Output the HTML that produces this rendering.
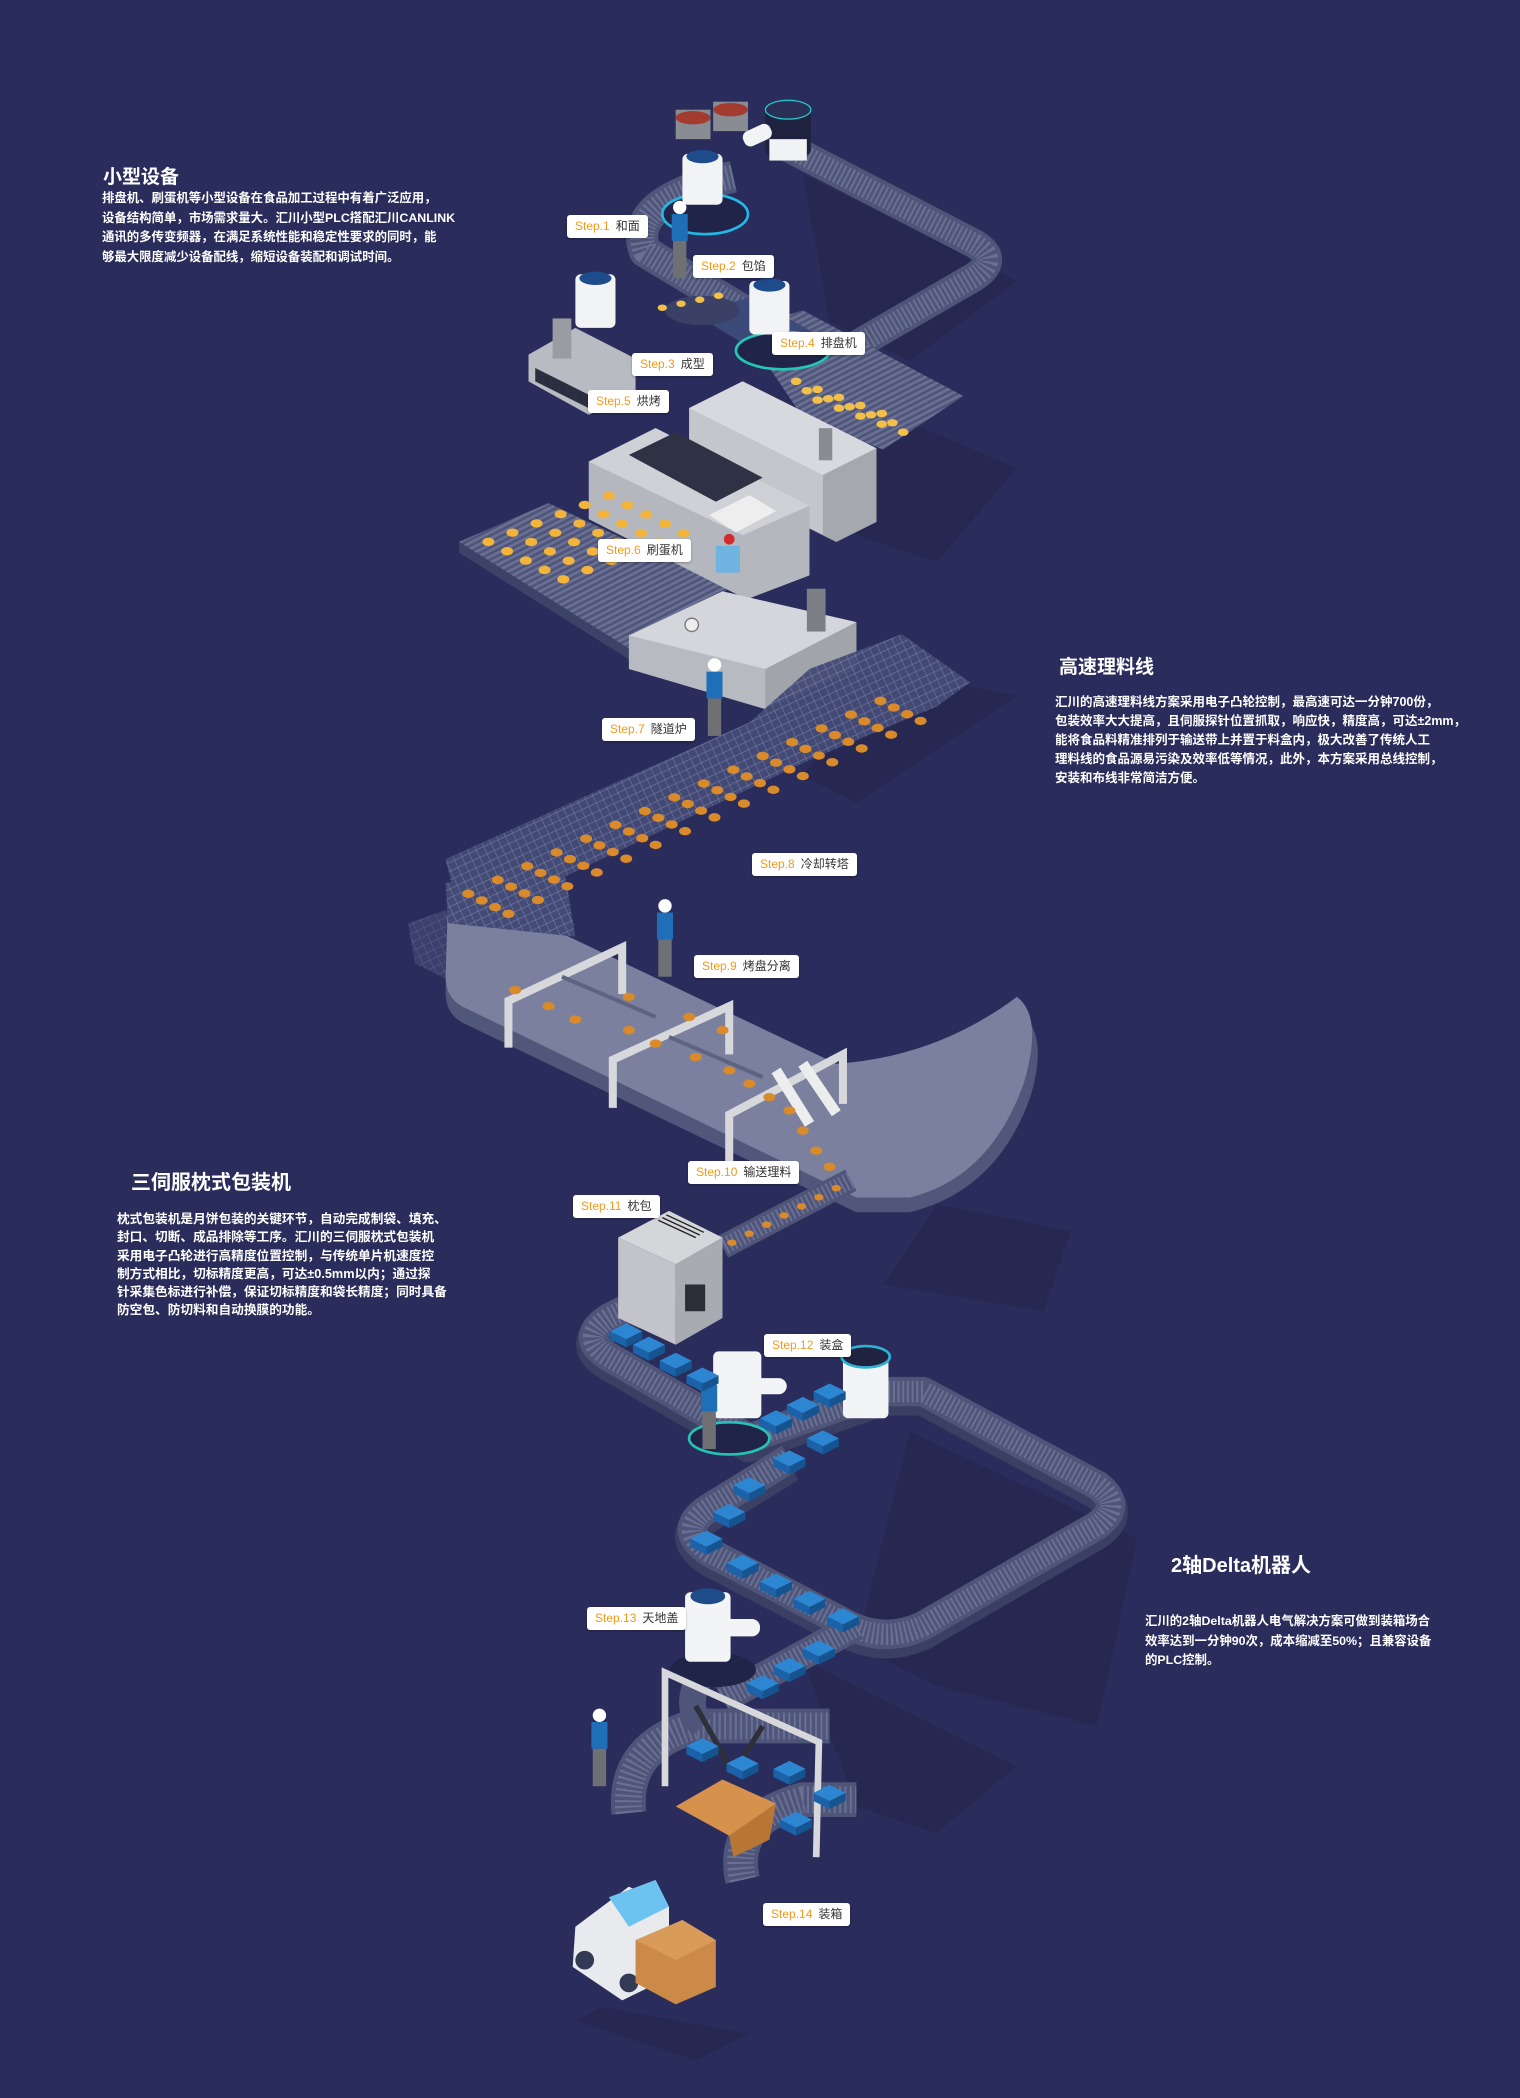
<!DOCTYPE html>
<html><head><meta charset="utf-8">
<style>
html,body{margin:0;padding:0;}
body{width:1520px;height:2098px;background:#2a2c5b;position:relative;overflow:hidden;font-family:"Liberation Sans","Noto Sans CJK SC",sans-serif;color:#fff;}
svg{position:absolute;left:0;top:0;}
.t{position:absolute;font-weight:bold;white-space:nowrap;}
.h{font-size:19px;}
.b{font-size:12.4px;}
.step{position:absolute;background:#fff;border-radius:3px;height:23px;line-height:23px;font-size:12px;color:#333;padding:0 8px;white-space:nowrap;box-shadow:0 1px 2px rgba(0,0,0,.3);font-family:"Liberation Sans","Noto Sans CJK SC",sans-serif;}
.step span{color:#f39a1c;margin-right:6px;}
</style></head><body>
<svg width="1520" height="2098" viewBox="0 0 1136 1568">
<defs>
<pattern id="mesh" width="6" height="6" patternUnits="userSpaceOnUse" patternTransform="rotate(-25)">
<rect width="6" height="6" fill="#444b76"/><path d="M0 0H6M0 0V6" stroke="#7980a4" stroke-width="0.8"/></pattern>
<pattern id="slat" width="4" height="4" patternUnits="userSpaceOnUse" patternTransform="rotate(63)">
<rect width="4" height="4" fill="#4f5578"/><rect width="2" height="4" fill="#6a7094"/></pattern>
<g id="pp">
<circle cx="0" cy="0" r="5" fill="#fff"/><rect x="-6" y="5" width="12" height="20" fill="#1e6fb8"/><rect x="-5" y="25" width="10" height="28" fill="#6e7074"/>
</g>
</defs>
<!-- shadows -->
<g fill="#25274f" opacity="0.7">
<path d="M600 130 L760 210 L680 270 L620 240Z"/>
<path d="M620 290 L760 350 L700 420 L640 400Z"/>
<path d="M660 500 L760 520 L640 600 L600 580Z"/>
<path d="M700 900 L800 920 L780 980 L660 960Z"/>
<path d="M680 1070 L850 1150 L820 1290 L700 1260 L640 1230Z"/>
<path d="M600 1240 L760 1320 L700 1370 L640 1350Z"/>
<path d="M450 1500 L560 1520 L520 1540 L430 1510Z"/>
</g>
<g fill="none" stroke-linejoin="round" stroke-linecap="butt">
<path d="M585 108 L728 182 Q748 194 728 207 L640 258" stroke="#4f5578" stroke-width="22"/>
<path d="M585 108 L728 182 Q748 194 728 207 L640 258" stroke="#6a7094" stroke-width="16" stroke-dasharray="1.5 2"/>
<path d="M548 132 Q468 150 482 188 L565 238" stroke="#4f5578" stroke-width="24"/>
<path d="M548 132 Q468 150 482 188 L565 238" stroke="#6a7094" stroke-width="18" stroke-dasharray="1.5 2"/>
</g>
<polygon points="555,245 600,232 720,296 660,336 600,312" fill="url(#slat)"/>
<polygon points="520,235 560,222 620,255 580,272" fill="#3b4a78"/>
<ellipse cx="527" cy="160" rx="32" ry="15" fill="#1f2448" stroke="#23b7e6" stroke-width="2"/>
<ellipse cx="585" cy="262" rx="35" ry="14" fill="#1f2448" stroke="#23c7b5" stroke-width="2"/>
<ellipse cx="525" cy="232" rx="28" ry="11" fill="#3a4066"/>
<g>
<rect x="505" y="82" width="26" height="22" fill="#8a8c93"/><ellipse cx="518" cy="88" rx="13" ry="5" fill="#a33c2e"/>
<rect x="533" y="76" width="26" height="22" fill="#8a8c93"/><ellipse cx="546" cy="82" rx="13" ry="5" fill="#a33c2e"/>
<rect x="572" y="80" width="34" height="36" rx="4" fill="#1f2340"/><ellipse cx="589" cy="82" rx="17" ry="7" fill="#2a2f55" stroke="#26c3c7"/>
<rect x="575" y="104" width="28" height="16" fill="#f1f2f4"/>
<rect x="510" y="115" width="30" height="38" rx="4" fill="#f2f3f5"/><ellipse cx="525" cy="117" rx="12" ry="5" fill="#1e4b8a"/>
<rect x="555" y="95" width="22" height="12" rx="5" fill="#f2f3f5" transform="rotate(-25 566 101)"/>
<rect x="430" y="205" width="30" height="40" rx="4" fill="#f2f3f5"/><ellipse cx="445" cy="208" rx="12" ry="5" fill="#1e4b8a"/>
<rect x="560" y="210" width="30" height="40" rx="4" fill="#f2f3f5"/><ellipse cx="575" cy="213" rx="12" ry="5" fill="#1e4b8a"/>
<polygon points="395,265 430,245 475,268 475,295 440,310 395,285" fill="#b9bbc2"/>
<polygon points="400,275 440,295 440,305 400,285" fill="#2b2e40"/>
<rect x="413" y="238" width="14" height="30" fill="#9a9ca4"/>
</g>
<polygon points="343,405 410,376 545,440 472,486" fill="url(#slat)"/>
<polygon points="343,405 472,486 472,494 343,413" fill="#3d4368"/>
<polygon points="515,305 555,285 655,335 655,390 625,405 515,350" fill="#c4c6cc"/>
<polygon points="515,305 555,285 655,335 615,355" fill="#d8d9de"/>
<polygon points="615,355 655,335 655,390 625,405 615,400" fill="#a6a8b0"/>
<rect x="612" y="320" width="10" height="24" fill="#8a8c93"/>
<polygon points="440,345 490,320 605,378 605,430 558,448 440,388" fill="#b5b7bf"/>
<polygon points="440,345 490,320 605,378 555,400" fill="#cfd1d6"/>
<polygon points="470,340 505,323 570,357 535,375" fill="#2f3244"/>
<polygon points="530,385 560,370 580,382 550,398" fill="#eeeeef"/>
<rect x="535" y="408" width="18" height="20" fill="#6fb3e0"/>
<circle cx="545" cy="403" r="4" fill="#d12b2b"/>
<polygon points="470,475 540,442 640,465 640,500 572,530 470,500" fill="#b8bac1"/>
<polygon points="470,475 540,442 640,465 572,500" fill="#d5d6db"/>
<polygon points="572,500 640,465 640,500 572,530" fill="#a2a4ac"/>
<rect x="603" y="440" width="14" height="32" fill="#7d7f86"/>
<circle cx="517" cy="467" r="5" fill="#eee" stroke="#777"/>
<polygon points="333,642 560,540 605,500 674,474 725,510 700,528 605,568 345,692" fill="url(#mesh)" opacity="0.95"/>
<polygon points="305,690 345,676 350,740 310,720" fill="url(#mesh)" opacity="0.6"/>
<path d="M335 680 L425 710 L625 805 Q700 800 760 755 Q785 770 770 820 Q745 890 680 906 L640 906 L345 764 Q333 757 333 742 Z" fill="#50577a"/>
<path d="M335 668 L425 700 L625 795 Q700 790 760 745 Q780 760 765 810 Q740 880 680 895 L640 895 L345 752 Q333 745 333 730 Z" fill="#7a809e"/>
<polygon points="333,660 420,640 430,700 335,690" fill="url(#mesh)"/>
<g stroke="#d7d8dc" stroke-width="6" fill="none" stroke-linecap="square">
<path d="M380 780 L380 748 L465 708 L465 740"/>
<path d="M458 825 L458 792 L545 752 L545 785"/>
<path d="M545 870 L545 833 L630 788 L630 822"/>
</g>
<g stroke="#eceded" stroke-width="8"><path d="M580 800 L605 840"/><path d="M600 795 L625 832"/></g>
<g stroke="#5d6380" stroke-width="3"><path d="M420 730 L490 760"/><path d="M500 775 L570 805"/></g>
<path d="M636 882 L540 932" stroke="#4f5578" stroke-width="18" fill="none"/>
<path d="M636 882 L540 932" stroke="#6a7094" stroke-width="13" stroke-dasharray="1.5 2" fill="none"/>
<g fill="none" stroke-linejoin="round">
<path id="c1" d="M505 960 L455 985 Q432 1000 455 1014 L560 1075 L660 1040 L690 1040 L820 1110 Q840 1125 820 1140 L690 1215 Q662 1228 635 1215 L530 1160 Q505 1143 530 1127 L590 1090"/>
<use href="#c1" stroke="#3a3f63" stroke-width="26" transform="translate(0,5)"/>
<use href="#c1" stroke="#4f5578" stroke-width="22"/>
<use href="#c1" stroke="#6a7094" stroke-width="16" stroke-dasharray="1.5 2"/>
<path d="M640 1215 L540 1270" stroke="#4f5578" stroke-width="22"/>
<path d="M640 1215 L540 1270" stroke="#6a7094" stroke-width="16" stroke-dasharray="1.5 2"/>
</g>
<polygon points="462,925 500,905 540,925 505,945" fill="#d5d6da"/>
<polygon points="462,925 505,945 505,1005 462,985" fill="#c2c4c9"/>
<polygon points="505,945 540,925 540,985 505,1005" fill="#a9abb2"/>
<rect x="512" y="960" width="15" height="20" fill="#2b2d38"/>
<g stroke="#222" stroke-width="1"><path d="M492 912 L520 925M495 910 L523 923M498 908 L526 921"/></g>
<ellipse cx="545" cy="1075" rx="30" ry="12" fill="#1f2448" stroke="#25c3b5" stroke-width="2"/>
<rect x="533" y="1010" width="36" height="50" rx="4" fill="#f3f4f6"/>
<rect x="560" y="1030" width="28" height="12" rx="6" fill="#f3f4f6"/>
<rect x="630" y="1012" width="34" height="48" rx="4" fill="#f3f4f6"/>
<ellipse cx="647" cy="1014" rx="18" ry="8" fill="#1f2340" stroke="#2cb3d6" stroke-width="2"/>
<g fill="none" stroke-linejoin="round">
<path d="M470 1355 Q465 1305 520 1290 L620 1290" stroke="#4f5578" stroke-width="26"/>
<path d="M470 1355 Q465 1305 520 1290 L620 1290" stroke="#6a7094" stroke-width="20" stroke-dasharray="1.5 2.5"/>
<path d="M555 1405 Q545 1360 600 1345 L640 1345" stroke="#4f5578" stroke-width="26"/>
<path d="M555 1405 Q545 1360 600 1345 L640 1345" stroke="#6a7094" stroke-width="20" stroke-dasharray="1.5 2.5"/>
<path d="M525 1250 Q510 1275 525 1290" stroke="#4f5578" stroke-width="20"/>
</g>
<polygon points="505,1350 540,1330 580,1348 545,1372" fill="#d6914c"/>
<polygon points="545,1372 580,1348 575,1375 548,1388" fill="#b77636"/>
<ellipse cx="533" cy="1248" rx="32" ry="13" fill="#1f2448"/>
<rect x="512" y="1190" width="34" height="52" rx="4" fill="#f3f4f6"/>
<ellipse cx="529" cy="1193" rx="13" ry="6" fill="#1e4b8a"/>
<rect x="540" y="1210" width="28" height="13" rx="6" fill="#f3f4f6"/>
<g stroke="#d7d8dc" stroke-width="5" fill="none"><path d="M497 1335 L497 1250 L612 1302 L610 1388"/></g>
<g stroke="#2d2f3a" stroke-width="4" fill="none"><path d="M520 1275 L548 1325 L570 1290"/></g>
<polygon points="430,1440 470,1410 500,1425 500,1478 465,1495 428,1470" fill="#e9eaed"/>
<polygon points="455,1418 490,1405 500,1425 470,1440" fill="#6cc3f0"/>
<circle cx="437" cy="1465" r="7" fill="#333a55"/><circle cx="470" cy="1482" r="7" fill="#333a55"/>
<polygon points="475,1450 510,1435 535,1450 535,1485 505,1498 475,1482" fill="#cc8a48"/>
<polygon points="475,1450 510,1435 535,1450 505,1465" fill="#d89b5a"/>
<use href="#pp" x="508" y="155"/>
<use href="#pp" x="534" y="497"/>
<use href="#pp" x="497" y="677"/>
<use href="#pp" x="530" y="1030"/>
<use href="#pp" x="448" y="1282"/>
<g id="dots"></g>
<g id="boxes"></g>
</svg>

<div class="t h" style="left:103px;top:162px">小型设备</div>
<div class="t b" style="left:102px;top:189px;line-height:19.5px">排盘机、刷蛋机等小型设备在食品加工过程中有着广泛应用，<br>设备结构简单，市场需求量大。汇川小型PLC搭配汇川CANLINK<br>通讯的多传变频器，在满足系统性能和稳定性要求的同时，能<br>够最大限度减少设备配线，缩短设备装配和调试时间。</div>

<div class="t h" style="left:1059px;top:652px">高速理料线</div>
<div class="t b" style="left:1055px;top:693px;line-height:19px;font-size:12.5px">汇川的高速理料线方案采用电子凸轮控制，最高速可达一分钟700份，<br>包装效率大大提高，且伺服探针位置抓取，响应快，精度高，可达±2mm，<br>能将食品料精准排列于输送带上并置于料盒内，极大改善了传统人工<br>理料线的食品源易污染及效率低等情况，此外，本方案采用总线控制，<br>安装和布线非常简洁方便。</div>

<div class="t h" style="left:131px;top:1166px;font-size:20px">三伺服枕式包装机</div>
<div class="t b" style="left:117px;top:1210px;line-height:18.3px;font-size:12.7px">枕式包装机是月饼包装的关键环节，自动完成制袋、填充、<br>封口、切断、成品排除等工序。汇川的三伺服枕式包装机<br>采用电子凸轮进行高精度位置控制，与传统单片机速度控<br>制方式相比，切标精度更高，可达±0.5mm以内；通过探<br>针采集色标进行补偿，保证切标精度和袋长精度；同时具备<br>防空包、防切料和自动换膜的功能。</div>

<div class="t h" style="left:1171px;top:1549px;font-size:20px">2轴Delta机器人</div>
<div class="t b" style="left:1145px;top:1612px;line-height:19.5px">汇川的2轴Delta机器人电气解决方案可做到装箱场合<br>效率达到一分钟90次，成本缩减至50%；且兼容设备<br>的PLC控制。</div>

<div class="step" style="left:567px;top:215px"><span>Step.1</span>和面</div>
<div class="step" style="left:693px;top:255px"><span>Step.2</span>包馅</div>
<div class="step" style="left:632px;top:353px"><span>Step.3</span>成型</div>
<div class="step" style="left:772px;top:332px"><span>Step.4</span>排盘机</div>
<div class="step" style="left:588px;top:390px"><span>Step.5</span>烘烤</div>
<div class="step" style="left:598px;top:539px"><span>Step.6</span>刷蛋机</div>
<div class="step" style="left:602px;top:718px"><span>Step.7</span>隧道炉</div>
<div class="step" style="left:752px;top:853px"><span>Step.8</span>冷却转塔</div>
<div class="step" style="left:694px;top:955px"><span>Step.9</span>烤盘分离</div>
<div class="step" style="left:688px;top:1161px"><span>Step.10</span>输送理料</div>
<div class="step" style="left:573px;top:1195px"><span>Step.11</span>枕包</div>
<div class="step" style="left:764px;top:1334px"><span>Step.12</span>装盒</div>
<div class="step" style="left:587px;top:1607px"><span>Step.13</span>天地盖</div>
<div class="step" style="left:763px;top:1903px"><span>Step.14</span>装箱</div>

<script>
(function(){
var NS="http://www.w3.org/2000/svg",g=document.getElementById("dots"),b=document.getElementById("boxes");
function dot(x,y,c,r){var e=document.createElementNS(NS,"ellipse");e.setAttribute("cx",x);e.setAttribute("cy",y);e.setAttribute("rx",r||4.5);e.setAttribute("ry",(r||4.5)*0.7);e.setAttribute("fill",c);g.appendChild(e);}
var i,j;
for(i=0;i<15;i++)for(j=0;j<4;j++){var x=350+i*22+j*10,y=668-i*10.3+j*5;if(x<700)dot(x,y,"#d98a2b");}
for(i=0;i<6;i++)for(j=0;j<5;j++)dot(365+i*18+j*14,405-i*7+j*7+i*0.1,"#f2b43a");
for(i=0;i<5;i++)for(j=0;j<3;j++)dot(595+i*16+j*8,285+i*6-j*5+j*12,"#f2c04a",4);
for(i=0;i<4;i++)dot(495+i*14,230-i*3,"#f2c04a",3.5);
var p=[[385,740],[410,752],[430,762],[470,770],[490,780],[520,790],[545,800],[560,810],[575,820],[590,830],[600,845],[610,860],[620,872],[540,770],[515,760],[470,745]];
p.forEach(function(a){dot(a[0],a[1],"#d98a2b");});
for(i=0;i<7;i++)dot(625-i*13,888+i*6.8,"#d98a2b",3.5);
var bx=[[468,995],[485,1005],[505,1017],[525,1028],[580,1060],[600,1050],[620,1040],[615,1075],[590,1090],[560,1110],[545,1130],[528,1150],[555,1168],[580,1182],[605,1195],[630,1208],[612,1232],[590,1245],[570,1258],[525,1305],[555,1318],[590,1322],[620,1340],[595,1360]];
bx.forEach(function(a){var r=document.createElementNS(NS,"polygon");var x=a[0],y=a[1];
r.setAttribute("points",(x-12)+","+y+" "+x+","+(y-6)+" "+(x+12)+","+y+" "+x+","+(y+6));r.setAttribute("fill","#2d86d2");b.appendChild(r);
var s=document.createElementNS(NS,"polygon");s.setAttribute("points",(x-12)+","+y+" "+x+","+(y+6)+" "+x+","+(y+12)+" "+(x-12)+","+(y+6));s.setAttribute("fill","#1b62a8");b.appendChild(s);
var t=document.createElementNS(NS,"polygon");t.setAttribute("points",x+","+(y+6)+" "+(x+12)+","+y+" "+(x+12)+","+(y+6)+" "+x+","+(y+12));t.setAttribute("fill","#15548f");b.appendChild(t);});
})();
</script>
</body></html>
